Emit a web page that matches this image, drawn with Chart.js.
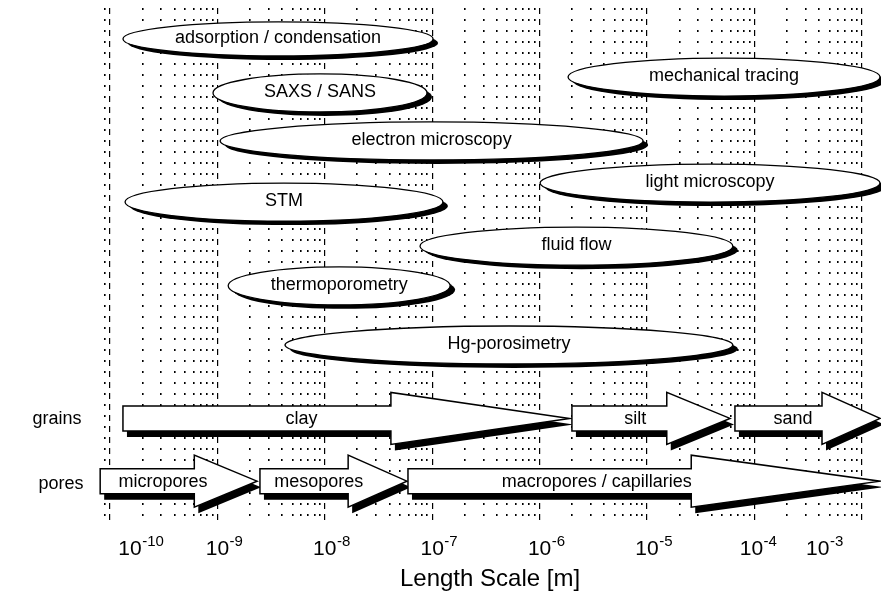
<!DOCTYPE html>
<html>
<head>
<meta charset="utf-8">
<title>Length Scale</title>
<script src="https://cdn.jsdelivr.net/npm/chart.js@4.4.1/dist/chart.umd.min.js"></script>
<style>
  html, body { margin: 0; padding: 0; background: #fff; }
  #wrap { width: 881px; height: 592px; }
</style>
</head>
<body>
<div id="wrap"><canvas id="chart" width="881" height="592"></canvas></div>
<script>
// Length axis range [m]
const axisMin = 8.07e-11;
const axisMax = 1.51e-3;
const decadeExponents = [-10, -9, -8, -7, -6, -5, -4, -3];

// Vertical lanes (0 = top of plot, 13 = bottom)
const laneMin = 0;
const laneMax = 13;

// Characterisation methods and the length range each one covers [m]
const methodNames = ['adsorption / condensation', 'SAXS / SANS', 'electron microscopy',
  'mechanical tracing', 'STM', 'light microscopy', 'fluid flow', 'thermoporometry', 'Hg-porosimetry'];
const methodMin  = [1.32e-10, 9.1e-10, 1.06e-9, 1.84e-6, 1.38e-10, 1.01e-6, 7.7e-8, 1.26e-9, 4.26e-9];
const methodMax  = [1.02e-7, 8.95e-8, 9.2e-6, 1.48e-3, 1.26e-7, 1.48e-3, 6.3e-5, 1.47e-7, 6.3e-5];
const methodLane = [0.78, 2.14, 3.35, 1.74, 4.89, 4.41, 6.0, 7.0, 8.49];

// Grain size classes [m]
const grainNames = ['clay', 'silt', 'sand'];
const grainFrom  = [1.32e-10, 2.0e-6, 6.59e-5];
const grainTo    = [1.9e-6, 5.93e-5, 1.48e-3];
const grainLane  = 10.34;

// Pore size classes [m]
const poreNames = ['micropores', 'mesopores', 'macropores / capillaries'];
const poreFrom  = [8.1e-11, 2.49e-9, 5.95e-8];
const poreTo    = [2.34e-9, 5.82e-8, 1.48e-3];
const poreLane  = 11.92;

const FONT = '"Liberation Sans", Arial, Helvetica, sans-serif';

function decadeTicks() {
  return decadeExponents.map(e => ({ value: Math.pow(10, e) }));
}
function minorTicks() {
  const out = [];
  for (let e = -11; e <= -3; e++) {
    for (let m = 2; m <= 9; m++) {
      const v = m * Math.pow(10, e);
      if (v >= axisMin && v <= axisMax) out.push({ value: v });
    }
  }
  return out;
}

function drawEllipse(ctx, xa, xb, yc, ry, label) {
  const cx = (xa + xb) / 2, rx = (xb - xa) / 2;
  ctx.save();
  ctx.fillStyle = '#000';
  ctx.beginPath();
  ctx.ellipse(cx + 5, yc + 4, rx, ry, 0, 0, Math.PI * 2);
  ctx.fill();
  ctx.fillStyle = '#fff';
  ctx.strokeStyle = '#000';
  ctx.lineWidth = 1.3;
  ctx.beginPath();
  ctx.ellipse(cx, yc, rx, ry, 0, 0, Math.PI * 2);
  ctx.fill();
  ctx.stroke();
  ctx.fillStyle = '#000';
  ctx.font = '18px ' + FONT;
  ctx.textAlign = 'center';
  ctx.textBaseline = 'middle';
  ctx.fillText(label, cx, yc - 1);
  ctx.restore();
}

function arrowPath(ctx, xa, xb, yc, dx, dy) {
  const body = 12.5, head = 26;
  const xh = xa + 0.6 * (xb - xa);
  ctx.beginPath();
  ctx.moveTo(xa + dx, yc - body + dy);
  ctx.lineTo(xh + dx, yc - body + dy);
  ctx.lineTo(xh + dx, yc - head + dy);
  ctx.lineTo(xb + dx, yc + dy);
  ctx.lineTo(xh + dx, yc + head + dy);
  ctx.lineTo(xh + dx, yc + body + dy);
  ctx.lineTo(xa + dx, yc + body + dy);
  ctx.closePath();
}

function drawArrow(ctx, xa, xb, yc, label) {
  ctx.save();
  ctx.fillStyle = '#000';
  arrowPath(ctx, xa, xb, yc, 4, 6);
  ctx.fill();
  ctx.fillStyle = '#fff';
  ctx.strokeStyle = '#000';
  ctx.lineWidth = 1.5;
  ctx.lineJoin = 'miter';
  arrowPath(ctx, xa, xb, yc, 0, 0);
  ctx.fill();
  ctx.stroke();
  ctx.fillStyle = '#000';
  ctx.font = '18px ' + FONT;
  ctx.textAlign = 'center';
  ctx.textBaseline = 'middle';
  ctx.fillText(label, xa + 0.4 * (xb - xa), yc + 1);
  ctx.restore();
}

const diagramPlugin = {
  id: 'diagram',
  afterDraw(chart, args, opts) {
    const ctx = chart.ctx;
    const x = chart.scales.x;
    const y = chart.scales.y;

    // size-class arrows
    grainNames.forEach((n, i) => {
      drawArrow(ctx, x.getPixelForValue(grainFrom[i]), x.getPixelForValue(grainTo[i]),
        y.getPixelForValue(grainLane), n);
    });
    poreNames.forEach((n, i) => {
      drawArrow(ctx, x.getPixelForValue(poreFrom[i]), x.getPixelForValue(poreTo[i]),
        y.getPixelForValue(poreLane), n);
    });

    // method ellipses
    methodNames.forEach((n, i) => {
      drawEllipse(ctx, x.getPixelForValue(methodMin[i]), x.getPixelForValue(methodMax[i]),
        y.getPixelForValue(methodLane[i]), i === 0 ? 17 : 19, n);
    });

    ctx.save();
    ctx.fillStyle = '#000';
    // row captions
    ctx.font = '18px ' + FONT;
    ctx.textAlign = 'center';
    ctx.textBaseline = 'middle';
    ctx.fillText('grains', 57, y.getPixelForValue(grainLane) + 1);
    ctx.fillText('pores', 61, y.getPixelForValue(poreLane) + 3);

    // decade labels 10^n
    ctx.textBaseline = 'alphabetic';
    decadeExponents.forEach(e => {
      const px = x.getPixelForValue(Math.pow(10, e)) + (opts.nudge[e] || 0);
      ctx.font = '21px ' + FONT;
      ctx.textAlign = 'center';
      ctx.fillText('10', px, 555);
      const w = ctx.measureText('10').width;
      ctx.font = '15px ' + FONT;
      ctx.textAlign = 'left';
      ctx.fillText(String(e), px + w / 2 + 0.5, 546);
    });

    // axis title
    ctx.font = '24px ' + FONT;
    ctx.textAlign = 'center';
    ctx.fillText('Length Scale [m]', 490, 586);
    ctx.restore();
  }
};

new Chart(document.getElementById('chart'), {
  type: 'scatter',
  data: { datasets: [] },
  options: {
    responsive: false,
    animation: false,
    devicePixelRatio: 1,
    layout: { padding: { left: 100, right: 0, top: 8, bottom: 68 } },
    plugins: {
      legend: { display: false },
      tooltip: { enabled: false },
      diagram: { nudge: { '-10': 20, '-3': -44, '-4': -3 } }
    },
    scales: {
      x: {
        type: 'logarithmic',
        position: 'bottom',
        min: axisMin,
        max: axisMax,
        afterBuildTicks: s => { s.ticks = decadeTicks(); },
        ticks: { display: false },
        grid: { color: '#000', lineWidth: 1.2, drawTicks: false },
        border: { display: false, dash: [6, 5] }
      },
      xMinor: {
        type: 'logarithmic',
        position: 'bottom',
        min: axisMin,
        max: axisMax,
        afterBuildTicks: s => { s.ticks = minorTicks(); },
        ticks: { display: false },
        grid: { color: '#000', lineWidth: 1.6, drawTicks: false },
        border: { display: false, dash: [2, 9] }
      },
      y: {
        type: 'linear',
        display: false,
        reverse: true,
        min: laneMin,
        max: laneMax
      }
    }
  },
  plugins: [diagramPlugin]
});
</script>
</body>
</html>
